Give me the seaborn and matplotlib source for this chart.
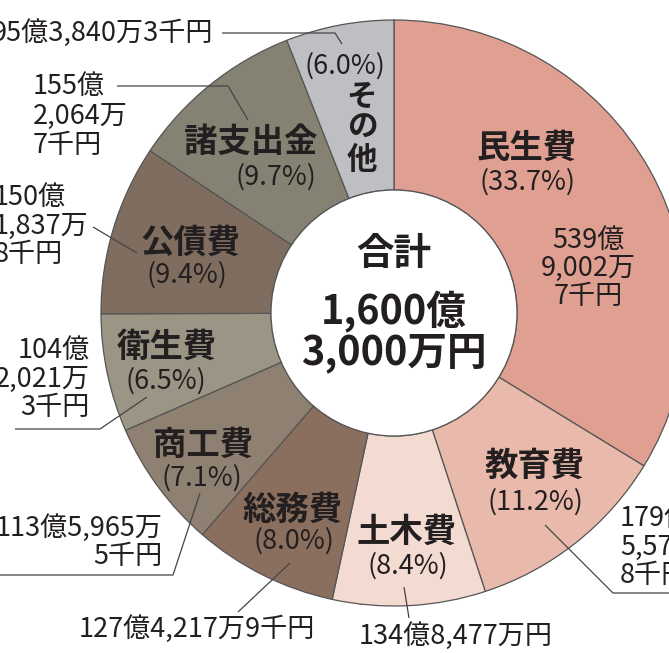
import matplotlib
matplotlib.use("Agg")
import matplotlib.pyplot as plt
import seaborn as sns
from matplotlib.patches import Circle

sns.set_theme(style="white")
plt.rcParams['font.family'] = ['Noto Sans CJK JP', 'DejaVu Sans']

# ---- data (億円 units) ----
categories = ["民生費", "教育費", "土木費", "総務費", "商工費", "衛生費", "公債費", "諸支出金", "その他"]
amounts = [539.90027, 179.55728, 134.8477, 127.42179, 113.59655, 104.20213, 150.18378, 155.20647, 95.38403]
percents = ["(33.7%)", "(11.2%)", "(8.4%)", "(8.0%)", "(7.1%)", "(6.5%)", "(9.4%)", "(9.7%)", "(6.0%)"]
amount_labels = ["539億\n9,002万\n7千円", "179億\n5,572万\n8千円", "134億8,477万円", "127億4,217万9千円",
                 "113億5,965万\n5千円", "104億\n2,021万\n3千円", "150億\n1,837万\n8千円", "155億\n2,064万\n7千円",
                 "95億3,840万3千円"]
total_label = ["合計", "1,600億", "3,000万円"]
colors = ["#DF9F91", "#E9BAAC", "#F3DBD2", "#8A6F5F", "#8F8172", "#9B9585", "#7F6E5F", "#868273", "#BEBFC3"]

W, H = 669, 653
fig = plt.figure(figsize=(W / 100, H / 100), dpi=100)
ax = fig.add_axes([0, 0, 1, 1])

def Y(y):
    return H - y

cx, cy, R, r = 394, 313, 293, 123
ax.pie(amounts, colors=colors, startangle=90, counterclock=False, radius=R,
       center=(cx, Y(cy)),
       wedgeprops=dict(width=R - r, edgecolor="#555555", linewidth=0.9))
ax.add_patch(Circle((cx, Y(cy)), r, facecolor="white", edgecolor="#555555", linewidth=0.9, zorder=3))
ax.set_xlim(0, W)
ax.set_ylim(0, H)
ax.set_aspect("auto")
ax.axis("off")

TC = "#231F20"
LC = "#444444"
BOLD = 24
PCT = 19.5
AMT = 19.5

def txt(x, y, s, size, weight="normal", ha="center", va="center", ls=1.2, **kw):
    ax.text(x, Y(y), s, fontsize=size, fontweight=weight, ha=ha, va=va, color=TC,
            linespacing=ls, zorder=5, **kw)

def line(pts):
    ax.plot([p[0] for p in pts], [Y(p[1]) for p in pts], color=LC, lw=0.9, zorder=4,
            solid_capstyle="butt")

# category names and percents
cat_pos = {
    "民生費": ((527, 148), (527, 182)),
    "教育費": ((535, 466), (535, 502)),
    "土木費": ((407, 532), (408, 566)),
    "総務費": ((293, 510), (294, 541)),
    "商工費": ((203, 445), (202, 478)),
    "衛生費": ((167, 347), (166, 381)),
    "公債費": ((191, 243), (187, 275)),
    "諸支出金": ((251, 142), (276, 177)),
}
for i, c in enumerate(categories):
    if c in cat_pos:
        (x1, y1), (x2, y2) = cat_pos[c]
        txt(x1, y1, c, BOLD, "bold")
        txt(x2, y2, percents[i], PCT)

# その他 vertical
txt(345, 66, percents[8], PCT)
txt(362, 128, "\n".join(categories[8]), 22, "bold", ls=0.98)

# amounts
txt(588, 268, amount_labels[0], AMT, ls=1.05)
txt(620, 547, amount_labels[1], AMT, ha="left", ls=1.08)
txt(456, 636, amount_labels[2], AMT)
txt(197, 629, amount_labels[3], AMT)
txt(163, 542, amount_labels[4], AMT, ha="right", ls=1.05)
txt(90, 379, amount_labels[5], AMT, ha="right", ls=1.08)
txt(-6, 226, amount_labels[6], AMT, ha="left", ls=1.08)
txt(33, 116, amount_labels[7], AMT, ha="left", ls=1.1)
txt(213, 33, amount_labels[8], AMT, ha="right")

# leader lines
line([(222, 33), (335, 33), (342, 44)])
line([(117, 86), (228, 86), (248, 120)])
line([(93, 227), (137, 253)])
line([(15, 429), (100, 429), (147, 397)])
line([(0, 575), (173, 575), (200, 493)])
line([(238, 612), (290, 563)])
line([(404, 587), (409, 618)])
line([(545, 525), (613, 593), (669, 593)])

# center total
txt(cx, 253, total_label[0], 27, "bold")
txt(cx, 312, total_label[1], 28.5, "bold")
txt(cx, 353, total_label[2], 28.5, "bold")

fig.savefig("out.png", dpi=100)
